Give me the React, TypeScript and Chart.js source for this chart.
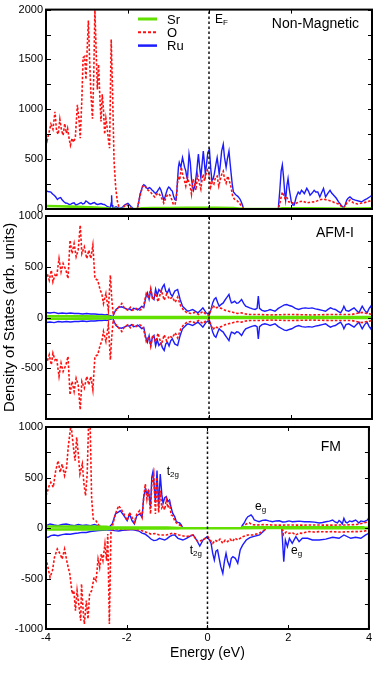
import React, { useEffect, useRef } from 'react';
import { Chart, registerables } from 'chart.js';

Chart.register(...registerables);

type P = [number, number | null];

const W = 374;
const H = 673;
const FONT = "'Liberation Sans', Arial, Helvetica, sans-serif";

const COL_SR = '#62e000';
const COL_O = '#ff1010';
const COL_RU = '#1c1cff';

const ENERGY_TICKS = [-4, -2, 0, 2, 4];
const NM_Y_TICKS = [0, 500, 1000, 1500, 2000];
const SP_Y_TICKS = [-1000, -500, 0, 500, 1000];
const Y_MINOR_STEP = 250;

const SERIES_NAMES = ['Sr', 'O', 'Ru'];
const PANEL_TITLES = ['Non-Magnetic', 'AFM-I', 'FM'];

// ---------- Non-Magnetic ----------
const NM_SR: P[] = [[-4.0, 30], [-3.7, 28], [-3.4, 24], [-3.1, 20], [-2.8, 15], [-2.6, 10], [-2.45, 5], [-2.3, 2], [-2.1, 0], [-1.75, 0], [-1.65, 6], [-1.4, 10], [-1.0, 10], [-0.6, 12], [-0.2, 12], [0.2, 12], [0.6, 10], [0.85, 0], [1.7, 0], [1.8, 6], [2.4, 6], [3.0, 5], [3.3, 2], [3.6, 5], [4.0, 6]];

const NM_O: P[] = [[-4.0, 740], [-3.97, 690], [-3.93, 760], [-3.88, 850], [-3.83, 800], [-3.78, 975], [-3.74, 780], [-3.7, 750], [-3.66, 900], [-3.62, 790], [-3.58, 740], [-3.54, 857], [-3.5, 760], [-3.47, 808], [-3.43, 700], [-3.4, 640], [-3.36, 709], [-3.32, 670], [-3.28, 720], [-3.23, 1044], [-3.19, 900], [-3.16, 709], [-3.12, 1100], [-3.09, 1517], [-3.05, 1530], [-3.02, 1300], [-2.99, 1600], [-2.96, 1890], [-2.93, 1500], [-2.9, 1172], [-2.86, 906], [-2.83, 1300], [-2.8, 1995], [-2.77, 1600], [-2.74, 1200], [-2.71, 1450], [-2.68, 1140], [-2.65, 877], [-2.62, 1150], [-2.59, 1000], [-2.56, 750], [-2.53, 906], [-2.5, 820], [-2.47, 700], [-2.44, 610], [-2.4, 1700], [-2.37, 1240], [-2.33, 483], [-2.29, 217], [-2.25, 80], [-2.21, 20], [-2.17, 0], [-2.12, 10], [-2.07, 30], [-2.02, 45], [-1.96, 20], [-1.9, 5], [-1.84, 0], [-1.76, 0], [-1.72, 80], [-1.67, 170], [-1.62, 230], [-1.58, 240], [-1.53, 200], [-1.48, 185], [-1.43, 168], [-1.38, 140], [-1.33, 120], [-1.28, 150], [-1.24, 160], [-1.19, 130], [-1.15, 100], [-1.11, 60], [-1.06, 110], [-1.01, 150], [-0.96, 140], [-0.91, 90], [-0.87, 40], [-0.83, 50], [-0.79, 160], [-0.76, 330], [-0.72, 290], [-0.68, 420], [-0.64, 330], [-0.61, 300], [-0.57, 230], [-0.53, 320], [-0.49, 260], [-0.46, 230], [-0.43, 150], [-0.39, 300], [-0.36, 260], [-0.32, 190], [-0.28, 340], [-0.24, 260], [-0.2, 200], [-0.17, 300], [-0.14, 350], [-0.11, 280], [-0.08, 340], [-0.04, 390], [0.0, 350], [0.04, 220], [0.08, 270], [0.12, 250], [0.16, 320], [0.2, 330], [0.24, 230], [0.28, 300], [0.32, 360], [0.35, 380], [0.38, 300], [0.42, 260], [0.46, 330], [0.5, 280], [0.54, 220], [0.58, 130], [0.62, 100], [0.66, 90], [0.7, 80], [0.74, 60], [0.78, 40], [0.81, 25], [0.85, 0], [1.7, 0], [1.74, 60], [1.77, 120], [1.8, 170], [1.83, 140], [1.86, 110], [1.89, 130], [1.92, 110], [1.96, 70], [2.02, 70], [2.1, 50], [2.2, 70], [2.3, 80], [2.4, 60], [2.5, 70], [2.6, 72], [2.7, 90], [2.8, 100], [2.9, 90], [3.0, 80], [3.1, 60], [3.18, 50], [3.24, 30], [3.3, 10], [3.34, 30], [3.38, 60], [3.46, 90], [3.55, 60], [3.65, 50], [3.75, 60], [3.88, 70], [4.0, 90]];

const NM_RU: P[] = [[-4.0, 180], [-3.95, 175], [-3.88, 170], [-3.84, 150], [-3.8, 138], [-3.76, 120], [-3.72, 95], [-3.68, 110], [-3.64, 115], [-3.6, 90], [-3.56, 72], [-3.52, 60], [-3.47, 56], [-3.43, 45], [-3.39, 49], [-3.35, 58], [-3.31, 62], [-3.27, 40], [-3.23, 45], [-3.19, 55], [-3.14, 65], [-3.1, 50], [-3.06, 56], [-3.02, 80], [-2.98, 70], [-2.94, 55], [-2.9, 50], [-2.85, 60], [-2.81, 65], [-2.77, 50], [-2.73, 45], [-2.69, 50], [-2.65, 55], [-2.61, 48], [-2.57, 45], [-2.53, 35], [-2.49, 23], [-2.45, 18], [-2.42, 15], [-2.4, 60], [-2.39, 138], [-2.38, 40], [-2.36, 10], [-2.32, 15], [-2.28, 23], [-2.24, 15], [-2.2, 7], [-2.16, 10], [-2.12, 20], [-2.07, 39], [-2.03, 50], [-1.99, 56], [-1.95, 40], [-1.91, 23], [-1.87, 10], [-1.83, 0], [-1.76, 2], [-1.72, 80], [-1.69, 150], [-1.66, 187], [-1.63, 230], [-1.6, 243], [-1.56, 230], [-1.53, 210], [-1.5, 204], [-1.46, 215], [-1.43, 205], [-1.4, 190], [-1.37, 180], [-1.34, 165], [-1.31, 155], [-1.28, 170], [-1.25, 190], [-1.21, 215], [-1.18, 190], [-1.15, 150], [-1.11, 89], [-1.08, 120], [-1.05, 160], [-1.02, 200], [-0.99, 220], [-0.96, 210], [-0.93, 190], [-0.9, 180], [-0.87, 130], [-0.84, 95], [-0.81, 89], [-0.79, 180], [-0.77, 300], [-0.75, 420], [-0.73, 466], [-0.71, 440], [-0.69, 420], [-0.67, 470], [-0.65, 515], [-0.62, 460], [-0.6, 420], [-0.57, 384], [-0.55, 330], [-0.53, 300], [-0.51, 420], [-0.49, 551], [-0.46, 470], [-0.43, 305], [-0.4, 220], [-0.38, 187], [-0.35, 230], [-0.33, 285], [-0.3, 380], [-0.28, 470], [-0.26, 551], [-0.23, 420], [-0.2, 318], [-0.17, 450], [-0.14, 581], [-0.11, 450], [-0.09, 355], [-0.06, 450], [-0.03, 565], [0.01, 600], [0.04, 420], [0.07, 285], [0.1, 300], [0.13, 350], [0.17, 450], [0.2, 515], [0.23, 420], [0.25, 350], [0.28, 450], [0.31, 581], [0.35, 650], [0.38, 520], [0.42, 417], [0.45, 500], [0.49, 581], [0.52, 450], [0.54, 367], [0.57, 250], [0.6, 170], [0.64, 150], [0.67, 138], [0.7, 130], [0.72, 121], [0.76, 100], [0.79, 72], [0.82, 40], [0.85, 0], [1.7, 0], [1.74, 200], [1.77, 380], [1.8, 443], [1.83, 320], [1.86, 150], [1.88, 89], [1.91, 230], [1.94, 305], [1.97, 200], [2.02, 72], [2.06, 40], [2.09, 39], [2.14, 120], [2.19, 170], [2.23, 150], [2.27, 187], [2.31, 170], [2.34, 154], [2.4, 207], [2.44, 180], [2.48, 138], [2.53, 160], [2.58, 187], [2.62, 170], [2.67, 170], [2.72, 121], [2.76, 160], [2.81, 207], [2.86, 121], [2.92, 160], [2.97, 187], [3.01, 160], [3.06, 138], [3.12, 110], [3.18, 72], [3.24, 40], [3.3, 10], [3.34, 40], [3.38, 89], [3.42, 110], [3.46, 121], [3.52, 100], [3.59, 89], [3.67, 80], [3.75, 72], [3.81, 90], [3.88, 105], [3.94, 120], [4.0, 138]];

// ---------- AFM-I (same magnitude for both spins; spin-down plotted negative) ----------
const AFM_SR: P[] = [[-4.0, 12], [-3.5, 12], [-3.0, 11], [-2.6, 10], [-2.45, 9], [-2.37, 0], [-2.3, 4], [-1.5, 4], [0.0, 4], [2.0, 4], [4.0, 4]];

const AFM_O: P[] = [[-4.0, 400], [-3.97, 433], [-3.92, 367], [-3.87, 466], [-3.83, 352], [-3.78, 420], [-3.74, 401], [-3.68, 581], [-3.63, 450], [-3.58, 532], [-3.51, 466], [-3.46, 384], [-3.41, 761], [-3.36, 630], [-3.31, 729], [-3.26, 598], [-3.21, 663], [-3.16, 909], [-3.12, 630], [-3.06, 696], [-3.0, 581], [-2.95, 663], [-2.9, 581], [-2.85, 712], [-2.8, 384], [-2.73, 367], [-2.67, 269], [-2.63, 236], [-2.59, 138], [-2.53, 236], [-2.47, 72], [-2.42, 417], [-2.39, 204], [-2.35, 23], [-2.32, 56], [-2.24, 89], [-2.14, 138], [-2.07, 89], [-1.99, 72], [-1.93, 100], [-1.87, 72], [-1.79, 89], [-1.7, 72], [-1.62, 89], [-1.54, 236], [-1.48, 187], [-1.43, 285], [-1.38, 171], [-1.31, 240], [-1.25, 155], [-1.17, 269], [-1.1, 171], [-1.04, 230], [-0.97, 180], [-0.9, 200], [-0.83, 150], [-0.77, 200], [-0.7, 120], [-0.62, 70], [-0.55, 50], [-0.45, 40], [-0.35, 50], [-0.25, 30], [-0.15, 60], [-0.07, 30], [0.0, 20], [0.05, 80], [0.1, 120], [0.15, 90], [0.2, 100], [0.3, 90], [0.4, 70], [0.5, 60], [0.6, 50], [0.7, 40], [0.8, 45], [0.9, 35], [1.0, 30], [1.2, 30], [1.5, 25], [2.0, 30], [2.5, 25], [3.0, 30], [3.5, 30], [3.75, 50], [4.0, 30]];

const AFM_RU: P[] = [[-4.0, 50], [-3.9, 45], [-3.8, 50], [-3.7, 40], [-3.6, 45], [-3.5, 40], [-3.4, 45], [-3.3, 40], [-3.2, 40], [-3.1, 35], [-3.0, 40], [-2.9, 35], [-2.8, 35], [-2.7, 30], [-2.62, 30], [-2.55, 25], [-2.5, 30], [-2.45, 20], [-2.4, 15], [-2.37, 0], [-2.33, 40], [-2.28, 80], [-2.22, 100], [-2.15, 105], [-2.08, 95], [-2.0, 80], [-1.95, 85], [-1.9, 70], [-1.85, 90], [-1.8, 85], [-1.75, 75], [-1.7, 90], [-1.65, 110], [-1.6, 100], [-1.55, 200], [-1.51, 243], [-1.47, 180], [-1.43, 270], [-1.39, 200], [-1.35, 177], [-1.31, 280], [-1.27, 220], [-1.23, 276], [-1.18, 250], [-1.14, 300], [-1.1, 325], [-1.06, 260], [-1.02, 243], [-0.98, 280], [-0.94, 230], [-0.9, 210], [-0.84, 260], [-0.77, 276], [-0.71, 180], [-0.65, 111], [-0.57, 79], [-0.52, 62], [-0.46, 70], [-0.4, 79], [-0.33, 60], [-0.27, 46], [-0.21, 70], [-0.15, 95], [-0.07, 46], [0.01, 30], [0.05, 80], [0.09, 144], [0.13, 180], [0.17, 194], [0.21, 150], [0.25, 111], [0.3, 130], [0.35, 144], [0.39, 170], [0.43, 194], [0.46, 210], [0.49, 227], [0.52, 180], [0.55, 144], [0.59, 150], [0.63, 161], [0.68, 140], [0.72, 144], [0.76, 160], [0.8, 177], [0.85, 140], [0.9, 111], [1.0, 95], [1.07, 85], [1.13, 79], [1.18, 90], [1.21, 210], [1.24, 90], [1.3, 70], [1.37, 62], [1.45, 70], [1.5, 79], [1.56, 70], [1.62, 62], [1.7, 90], [1.79, 111], [1.85, 125], [1.91, 128], [1.97, 118], [2.03, 111], [2.12, 90], [2.2, 79], [2.28, 90], [2.36, 95], [2.45, 90], [2.53, 95], [2.61, 85], [2.69, 79], [2.78, 70], [2.86, 62], [2.92, 80], [2.98, 95], [3.04, 85], [3.1, 79], [3.17, 60], [3.23, 46], [3.28, 80], [3.31, 111], [3.36, 70], [3.43, 62], [3.5, 80], [3.56, 95], [3.62, 70], [3.68, 46], [3.72, 80], [3.76, 111], [3.82, 70], [3.88, 46], [3.93, 90], [3.97, 111], [4.0, 80]];

// ---------- FM ----------
const FM_SR_UP: P[] = [[-4.0, 15], [-3.0, 14], [-2.5, 12], [-2.4, 4], [-1.0, 4], [-0.7, 0], [-0.66, null], [0.8, null], [0.84, 8], [3.85, 8], [3.9, 3], [4.0, 3]];
const FM_SR_DN: P[] = [[-4.0, -15], [-3.0, -14], [-2.5, -12], [-2.4, -4], [-1.0, -4], [-0.7, -2], [0.8, -2], [1.45, 0], [1.86, 0], [1.9, -3], [4.0, -3]];

const FM_O_UP: P[] = [[-4.0, 320], [-3.97, 353], [-3.92, 420], [-3.88, 452], [-3.82, 403], [-3.76, 567], [-3.7, 666], [-3.65, 551], [-3.6, 634], [-3.54, 518], [-3.49, 601], [-3.45, 799], [-3.41, 931], [-3.38, 1030], [-3.33, 832], [-3.28, 666], [-3.24, 898], [-3.2, 733], [-3.16, 535], [-3.1, 634], [-3.06, 436], [-3.02, 320], [-2.98, 535], [-2.94, 1100], [-2.91, 1100], [-2.87, 300], [-2.83, 90], [-2.76, 70], [-2.68, 20], [-2.58, 0], [-2.45, 0], [-2.4, 5], [-2.36, 10], [-2.28, 139], [-2.2, 221], [-2.14, 188], [-2.07, 139], [-1.99, 73], [-1.93, 155], [-1.87, 106], [-1.81, 56], [-1.75, 139], [-1.68, 172], [-1.62, 106], [-1.58, 304], [-1.54, 436], [-1.5, 287], [-1.46, 386], [-1.41, 139], [-1.38, 436], [-1.33, 535], [-1.29, 139], [-1.25, 502], [-1.21, 155], [-1.17, 370], [-1.13, 200], [-1.1, 220], [-1.06, 180], [-1.02, 280], [-0.98, 200], [-0.94, 250], [-0.9, 130], [-0.86, 120], [-0.81, 70], [-0.77, 50], [-0.73, 40], [-0.69, 30], [-0.61, 0], [0.83, 0], [0.87, 13], [0.91, 20], [0.96, 40], [1.04, 50], [1.1, 33], [1.2, 30], [1.4, 33], [1.6, 30], [1.8, 28], [2.0, 30], [2.3, 28], [2.6, 30], [3.0, 28], [3.4, 30], [3.7, 35], [4.0, 62]];

const FM_RU_UP: P[] = [[-4.0, 23], [-3.9, 40], [-3.8, 30], [-3.7, 23], [-3.6, 35], [-3.5, 40], [-3.4, 30], [-3.3, 23], [-3.2, 35], [-3.1, 25], [-3.0, 30], [-2.9, 23], [-2.8, 35], [-2.7, 20], [-2.6, 10], [-2.52, 0], [-2.44, 7], [-2.36, 40], [-2.28, 139], [-2.2, 160], [-2.16, 172], [-2.12, 150], [-2.07, 122], [-1.99, 73], [-1.93, 139], [-1.87, 73], [-1.81, 40], [-1.75, 122], [-1.68, 139], [-1.62, 106], [-1.58, 304], [-1.54, 386], [-1.5, 337], [-1.46, 370], [-1.41, 205], [-1.38, 502], [-1.35, 560], [-1.33, 469], [-1.29, 250], [-1.25, 568], [-1.21, 205], [-1.17, 535], [-1.13, 330], [-1.1, 244], [-1.06, 300], [-1.02, 310], [-0.98, 260], [-0.94, 277], [-0.9, 200], [-0.86, 145], [-0.81, 110], [-0.77, 62], [-0.73, 55], [-0.69, 50], [-0.65, 30], [-0.61, 0], [0.83, 0], [0.87, 30], [0.91, 50], [0.96, 90], [1.0, 112], [1.04, 120], [1.08, 129], [1.12, 110], [1.16, 79], [1.22, 70], [1.28, 62], [1.36, 75], [1.44, 79], [1.52, 70], [1.61, 62], [1.7, 70], [1.78, 72], [1.86, 60], [1.94, 62], [2.02, 70], [2.1, 62], [2.18, 65], [2.27, 68], [2.4, 62], [2.52, 62], [2.65, 58], [2.77, 50], [2.85, 55], [2.93, 62], [3.02, 68], [3.1, 79], [3.16, 60], [3.22, 50], [3.26, 75], [3.3, 62], [3.34, 40], [3.38, 96], [3.42, 60], [3.46, 50], [3.52, 70], [3.58, 62], [3.67, 79], [3.72, 62], [3.75, 50], [3.8, 70], [3.88, 62], [3.96, 79], [4.0, 100]];

const FM_O_DN: P[] = [[-4.0, -300], [-3.97, -356], [-3.9, -488], [-3.84, -422], [-3.79, -290], [-3.72, -208], [-3.65, -257], [-3.6, -307], [-3.54, -208], [-3.47, -356], [-3.41, -455], [-3.35, -653], [-3.31, -620], [-3.27, -818], [-3.23, -620], [-3.19, -752], [-3.14, -917], [-3.12, -554], [-3.08, -818], [-3.05, -950], [-3.0, -719], [-2.96, -900], [-2.92, -653], [-2.87, -620], [-2.81, -488], [-2.76, -521], [-2.71, -307], [-2.67, -389], [-2.63, -257], [-2.59, -323], [-2.54, -158], [-2.5, -323], [-2.47, -59], [-2.43, -950], [-2.39, -26], [-2.32, -10], [-2.2, -15], [-2.1, -10], [-2.0, -20], [-1.9, -10], [-1.8, -15], [-1.7, -20], [-1.6, -30], [-1.5, -45], [-1.4, -60], [-1.3, -55], [-1.19, -69], [-1.02, -69], [-0.86, -50], [-0.7, -69], [-0.53, -86], [-0.36, -69], [-0.24, -135], [-0.12, -119], [0.01, -86], [0.07, -120], [0.13, -152], [0.19, -120], [0.25, -135], [0.31, -110], [0.38, -152], [0.44, -120], [0.5, -135], [0.56, -110], [0.62, -135], [0.68, -100], [0.75, -119], [0.87, -86], [1.0, -69], [1.12, -69], [1.28, -53], [1.41, -20], [1.45, 0], [1.86, 0], [1.88, -69], [1.95, -40], [2.02, -53], [2.1, -45], [2.19, -69], [2.27, -50], [2.35, -53], [2.45, -40], [2.52, -36], [2.65, -40], [2.77, -36], [2.95, -38], [3.1, -36], [3.25, -40], [3.43, -38], [3.6, -36], [3.75, -36], [3.9, -30], [4.0, -20]];

const FM_RU_DN: P[] = [[-4.0, -90], [-3.95, -92], [-3.88, -76], [-3.8, -70], [-3.7, -76], [-3.6, -65], [-3.5, -59], [-3.4, -62], [-3.3, -55], [-3.2, -50], [-3.1, -43], [-3.0, -45], [-2.9, -35], [-2.8, -30], [-2.7, -26], [-2.6, -22], [-2.5, -20], [-2.4, -20], [-2.3, -26], [-2.2, -30], [-2.1, -22], [-2.0, -20], [-1.9, -15], [-1.8, -20], [-1.7, -30], [-1.62, -50], [-1.55, -59], [-1.48, -80], [-1.4, -109], [-1.33, -125], [-1.26, -120], [-1.19, -102], [-1.13, -110], [-1.06, -119], [-1.0, -105], [-0.94, -86], [-0.87, -70], [-0.81, -69], [-0.73, -102], [-0.61, -119], [-0.52, -102], [-0.43, -80], [-0.35, -69], [-0.27, -119], [-0.19, -178], [-0.11, -119], [-0.01, -86], [0.05, -120], [0.09, -152], [0.13, -251], [0.17, -317], [0.21, -230], [0.25, -218], [0.29, -300], [0.33, -383], [0.38, -449], [0.42, -330], [0.46, -251], [0.5, -330], [0.55, -383], [0.59, -300], [0.63, -284], [0.69, -300], [0.75, -350], [0.81, -218], [0.87, -169], [0.96, -119], [1.05, -95], [1.13, -86], [1.29, -69], [1.42, -20], [1.45, 0], [1.84, 0], [1.87, -200], [1.89, -334], [1.93, -119], [1.98, -185], [2.03, -102], [2.1, -152], [2.19, -86], [2.27, -135], [2.35, -102], [2.48, -102], [2.6, -119], [2.77, -119], [2.93, -110], [3.1, -92], [3.26, -102], [3.38, -69], [3.55, -102], [3.67, -92], [3.8, -102], [3.92, -69], [4.0, -53]];

const neg = (arr: P[]): P[] => arr.map(([e, v]) => [e, v === null ? null : -v]);

interface SeriesDef { data: P[]; color: string; width: number; dash?: number[]; order: number; }

function sr(data: P[]): SeriesDef { return { data, color: COL_SR, width: 2.6, order: 1 }; }
function ox(data: P[]): SeriesDef { return { data, color: COL_O, width: 1.6, dash: [2.5, 1.8], order: 2 }; }
function ru(data: P[]): SeriesDef { return { data, color: COL_RU, width: 1.4, order: 3 }; }

function subText(ctx: CanvasRenderingContext2D, x: number, y: number, main: string, sub: string, size: number, subSize: number) {
  ctx.fillStyle = '#000';
  ctx.textAlign = 'left';
  ctx.textBaseline = 'alphabetic';
  ctx.font = `${size}px ${FONT}`;
  ctx.fillText(main, x, y);
  const w = ctx.measureText(main).width;
  ctx.font = `${subSize}px ${FONT}`;
  ctx.fillText(sub, x + w, y + 2);
}

function annot(ctx: CanvasRenderingContext2D, chart: any, e: number, v: number, main: string, sub: string) {
  const x = chart.scales.x.getPixelForValue(e);
  const y = chart.scales.y.getPixelForValue(v);
  subText(ctx, x, y, main, sub, 12, 8);
}

function panelTitle(ctx: CanvasRenderingContext2D, text: string, x: number, y: number) {
  ctx.fillStyle = '#000';
  ctx.font = `14px ${FONT}`;
  ctx.textAlign = 'right';
  ctx.textBaseline = 'alphabetic';
  ctx.fillText(text, x, y);
}

interface PanelDef {
  top: number; bottom: number; right: number;
  yMin: number; yMax: number; yTicks: number[]; hideLabels: number[];
  showX: boolean; yTitle: boolean;
  series: SeriesDef[];
  extras: (ctx: CanvasRenderingContext2D, chart: any) => void;
}

const PANELS: PanelDef[] = [
  {
    top: 6, bottom: 209, right: 372, yMin: 0, yMax: 2000, yTicks: NM_Y_TICKS, hideLabels: [],
    showX: false, yTitle: false,
    series: [sr(NM_SR), ox(NM_O), ru(NM_RU)],
    extras: (ctx, chart) => {
      const a = chart.chartArea;
      const styles = [
        { c: COL_SR, w: 3, d: [] as number[] },
        { c: COL_O, w: 2, d: [3, 2] },
        { c: COL_RU, w: 2.5, d: [] as number[] },
      ];
      SERIES_NAMES.forEach((name, i) => {
        const y = 19 + i * 13.3;
        ctx.save();
        ctx.strokeStyle = styles[i].c;
        ctx.lineWidth = styles[i].w;
        ctx.setLineDash(styles[i].d);
        ctx.beginPath();
        ctx.moveTo(a.left + 92, y);
        ctx.lineTo(a.left + 111, y);
        ctx.stroke();
        ctx.restore();
        ctx.fillStyle = '#000';
        ctx.font = `13px ${FONT}`;
        ctx.textAlign = 'left';
        ctx.textBaseline = 'middle';
        ctx.fillText(name, a.left + 121, y + 1);
      });
      annot(ctx, chart, 0.15, 1862, 'E', 'F');
      panelTitle(ctx, PANEL_TITLES[0], a.right - 13, a.top + 18);
    },
  },
  {
    top: 216, bottom: 419, right: 372, yMin: -1000, yMax: 1000, yTicks: SP_Y_TICKS, hideLabels: [-1000],
    showX: false, yTitle: true,
    series: [sr(AFM_SR), sr(neg(AFM_SR)), ox(AFM_O), ox(neg(AFM_O)), ru(AFM_RU), ru(neg(AFM_RU))],
    extras: (ctx, chart) => {
      const a = chart.chartArea;
      panelTitle(ctx, PANEL_TITLES[1], a.right - 18, a.top + 21);
    },
  },
  {
    top: 427, bottom: 629, right: 370, yMin: -1000, yMax: 1000, yTicks: SP_Y_TICKS, hideLabels: [],
    showX: true, yTitle: false,
    series: [sr(FM_SR_UP), sr(FM_SR_DN), ox(FM_O_UP), ox(FM_O_DN), ru(FM_RU_UP), ru(FM_RU_DN)],
    extras: (ctx, chart) => {
      const a = chart.chartArea;
      panelTitle(ctx, PANEL_TITLES[2], a.right - 28, a.top + 24);
      annot(ctx, chart, -1.01, 525, 't', '2g');
      annot(ctx, chart, -0.44, -257, 't', '2g');
      annot(ctx, chart, 1.18, 183, 'e', 'g');
      annot(ctx, chart, 2.07, -257, 'e', 'g');
    },
  },
];

function framePlugin(def: PanelDef) {
  return {
    id: 'frame',
    afterDraw(chart: any) {
      const { ctx, chartArea: a, scales } = chart;
      const xs = scales.x;
      const ys = scales.y;
      ctx.save();
      ctx.strokeStyle = '#000';
      ctx.lineWidth = 1;
      ctx.setLineDash([]);
      ctx.beginPath();
      for (let v = def.yMin; v <= def.yMax; v += Y_MINOR_STEP) {
        const py = Math.round(ys.getPixelForValue(v)) + 0.5;
        ctx.moveTo(a.left, py); ctx.lineTo(a.left + 5, py);
        ctx.moveTo(a.right - 4, py); ctx.lineTo(a.right, py);
      }
      for (const e of ENERGY_TICKS) {
        const px = Math.round(xs.getPixelForValue(e)) + 0.5;
        ctx.moveTo(px, a.top); ctx.lineTo(px, a.top + 4);
        ctx.moveTo(px, a.bottom); ctx.lineTo(px, a.bottom - 4);
      }
      ctx.stroke();
      ctx.lineWidth = 2;
      ctx.strokeRect(a.left, a.top, a.right - a.left, a.bottom - a.top);
      def.extras(ctx, chart);
      ctx.restore();
    },
  };
}

function makeChart(canvas: HTMLCanvasElement, def: PanelDef) {
  const datasets: any[] = def.series.map((s) => ({
    data: s.data.map(([x, y]) => ({ x, y })),
    borderColor: s.color,
    borderWidth: s.width,
    borderDash: s.dash || [],
    pointRadius: 0,
    fill: false,
    tension: 0,
    clip: 0,
    spanGaps: false,
    order: s.order,
  }));
  datasets.push({
    data: [{ x: 0, y: def.yMin }, { x: 0, y: def.yMax }],
    borderColor: '#111',
    borderWidth: 1.5,
    borderDash: [2.5, 2.5],
    pointRadius: 0,
    fill: false,
    clip: 0,
    order: 0,
  });
  const tickFont = { size: 11, family: FONT };
  return new Chart(canvas, {
    type: 'line',
    data: { datasets },
    options: {
      animation: false,
      responsive: false,
      devicePixelRatio: 1,
      events: [],
      layout: {
        padding: { top: def.top, bottom: def.showX ? 0 : H - def.bottom, left: 0, right: W - def.right },
      },
      plugins: { legend: { display: false }, tooltip: { enabled: false } },
      scales: {
        x: {
          type: 'linear',
          min: -4,
          max: 4,
          display: def.showX,
          afterBuildTicks: (s: any) => { s.ticks = ENERGY_TICKS.map((v) => ({ value: v })); },
          afterFit: (s: any) => { if (def.showX) s.height = H - def.bottom; },
          ticks: { font: tickFont, color: '#000', padding: 2, autoSkip: false, maxRotation: 0, callback: (v: any) => String(v) },
          grid: { display: false, drawTicks: false },
          border: { display: false },
          title: { display: def.showX, text: 'Energy (eV)', color: '#000', font: { size: 14, family: FONT }, padding: { top: 0, bottom: 11 } },
        },
        y: {
          type: 'linear',
          min: def.yMin,
          max: def.yMax,
          afterBuildTicks: (s: any) => { s.ticks = def.yTicks.map((v) => ({ value: v })); },
          afterFit: (s: any) => { s.width = 46; },
          ticks: {
            font: tickFont, color: '#000', padding: 3, autoSkip: false,
            callback: (v: any) => (def.hideLabels.includes(v) ? '' : String(v)),
          },
          grid: { display: false, drawTicks: false },
          border: { display: false },
          title: { display: def.yTitle, text: 'Density of States (arb. units)', color: '#000', font: { size: 15, family: FONT }, padding: { top: 1, bottom: 0 } },
        },
      },
    } as any,
    plugins: [framePlugin(def)],
  });
}

export default function App() {
  const r1 = useRef<HTMLCanvasElement>(null);
  const r2 = useRef<HTMLCanvasElement>(null);
  const r3 = useRef<HTMLCanvasElement>(null);

  useEffect(() => {
    Chart.defaults.font.family = FONT;
    Chart.defaults.color = '#000';
    const refs = [r1, r2, r3];
    const charts = refs.map((r, i) => makeChart(r.current as HTMLCanvasElement, PANELS[i]));
    return () => charts.forEach((c) => c.destroy());
  }, []);

  return (
    <div style={{ position: 'absolute', left: 0, top: 0, width: W, height: H, background: '#fff' }}>
      {[r1, r2, r3].map((r, i) => (
        <canvas
          key={i}
          ref={r}
          width={W}
          height={H}
          style={{ position: 'absolute', left: 0, top: 0, width: W, height: H }}
        />
      ))}
    </div>
  );
}
